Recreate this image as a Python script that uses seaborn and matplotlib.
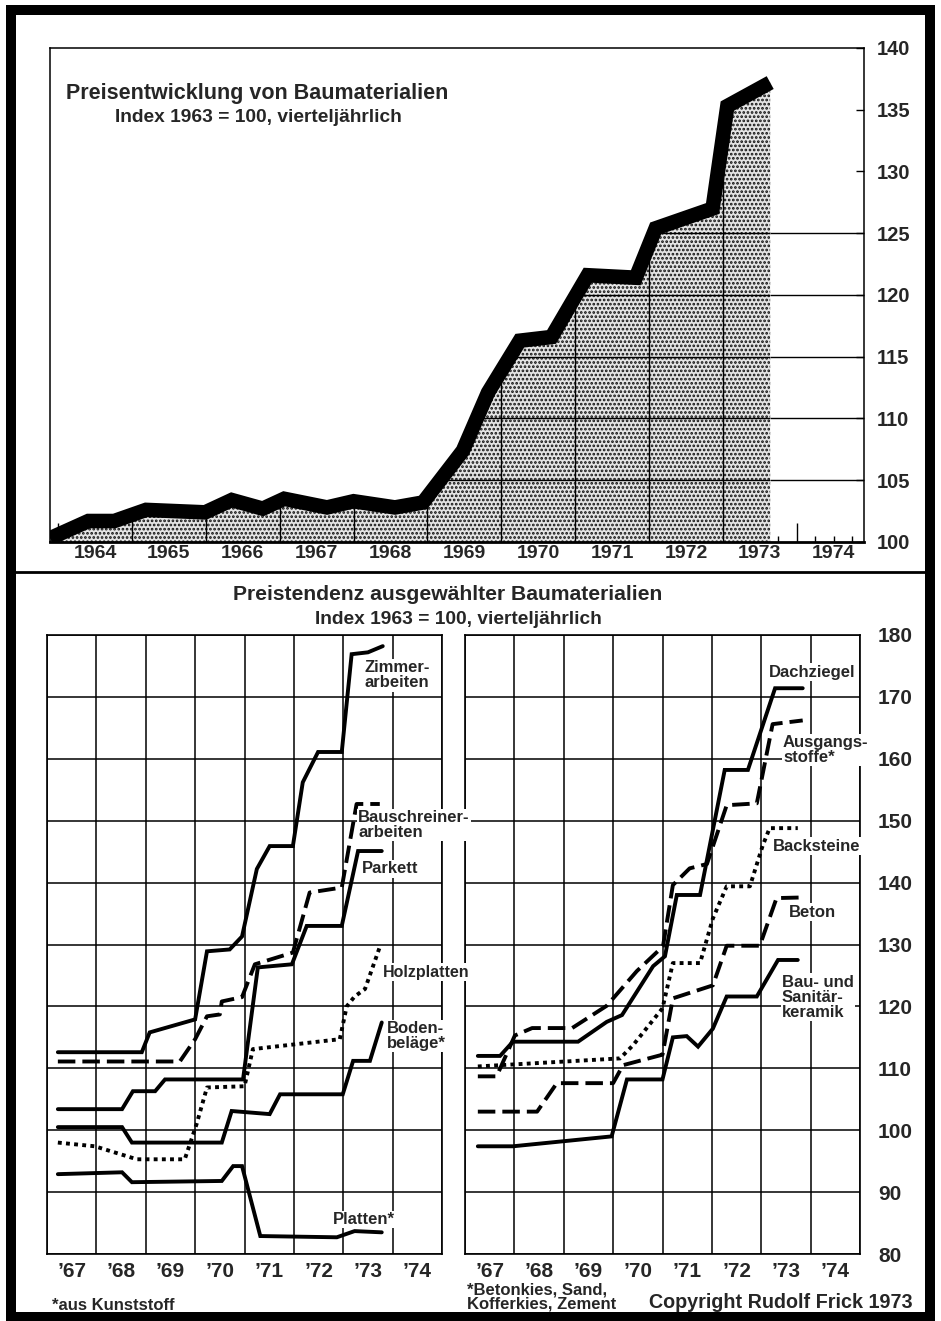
import numpy as np
import pandas as pd
import matplotlib
matplotlib.use("Agg")
import matplotlib.pyplot as plt
import seaborn as sns
from matplotlib.patches import Rectangle
from matplotlib.lines import Line2D
from matplotlib.ticker import FixedLocator, FuncFormatter, NullFormatter

# ---------------- data ----------------
# top chart: overall index, quarterly
top_year = [1963.89, 1964.41, 1964.76, 1965.19, 1965.99, 1966.35, 1966.77, 1967.06,
            1967.64, 1968.00, 1968.56, 1968.94, 1969.48, 1969.82, 1970.25, 1970.68,
            1971.17, 1971.82, 1972.09, 1972.86, 1973.06, 1973.64]
top_index = [100.3, 101.7, 101.7, 102.6, 102.4, 103.4, 102.7, 103.5,
             102.8, 103.3, 102.8, 103.2, 107.4, 112.1, 116.3, 116.6,
             121.6, 121.4, 125.4, 127.0, 135.3, 137.2]
top_years = list(range(1964, 1975))
top_y_ticks = [100, 105, 110, 115, 120, 125, 130, 135, 140]
top_grid_levels = [105, 110, 115, 120, 125]

# bottom-left chart
zimmer_x = [1967.22, 1968.92, 1969.08, 1970.00, 1970.24, 1970.70, 1970.95, 1971.25,
            1971.51, 1971.98, 1972.18, 1972.49, 1972.97, 1973.17, 1973.50, 1973.80]
zimmer_y = [112.6, 112.6, 115.8, 117.9, 128.9, 129.2, 131.3, 142.2,
            145.9, 145.9, 156.2, 161.1, 161.1, 176.9, 177.2, 178.2]
bauschr_x = [1967.22, 1969.69, 1970.00, 1970.24, 1970.50, 1970.54, 1970.95, 1971.21,
             1971.98, 1972.32, 1972.97, 1973.27, 1973.74]
bauschr_y = [111.1, 111.1, 114.7, 118.4, 118.7, 120.8, 121.5, 126.8,
             128.7, 138.4, 139.2, 152.7, 152.7]
parkett_x = [1967.22, 1968.52, 1968.74, 1969.19, 1969.39, 1970.97, 1971.27, 1971.96,
             1972.26, 1972.97, 1973.30, 1973.78]
parkett_y = [103.4, 103.4, 106.3, 106.3, 108.2, 108.2, 126.3, 126.8,
             133.0, 133.0, 145.1, 145.1]
holz_x = [1967.22, 1967.97, 1968.82, 1969.79, 1970.03, 1970.24, 1971.00, 1971.17,
          1972.93, 1973.07, 1973.23, 1973.44, 1973.74]
holz_y = [98.0, 97.4, 95.3, 95.3, 101.0, 106.9, 107.1, 113.1,
          114.7, 120.0, 121.6, 122.8, 129.6]
boden_x = [1967.22, 1968.52, 1968.72, 1970.54, 1970.74, 1971.51, 1971.72, 1972.99,
           1973.20, 1973.54, 1973.78]
boden_y = [100.5, 100.5, 98.0, 98.0, 103.1, 102.6, 105.8, 105.8,
           111.2, 111.2, 117.4]
platten_x = [1967.22, 1968.52, 1968.72, 1970.54, 1970.77, 1970.95, 1971.32, 1972.87,
             1973.23, 1973.78]
platten_y = [92.9, 93.2, 91.6, 91.8, 94.2, 94.2, 82.9, 82.7, 83.7, 83.5]

# bottom-right chart
dach_x = [1967.26, 1967.71, 1967.97, 1969.29, 1969.87, 1970.18, 1970.81, 1971.05,
          1971.29, 1971.76, 1972.26, 1972.73, 1973.28, 1973.84]
dach_y = [112.0, 112.0, 114.3, 114.3, 117.5, 118.6, 126.5, 128.1,
          138.0, 138.0, 158.2, 158.2, 171.4, 171.4]
ausg_x = [1967.26, 1967.64, 1968.01, 1968.36, 1969.17, 1969.87, 1970.48, 1971.01,
          1971.21, 1971.55, 1971.90, 1972.30, 1972.91, 1973.23, 1973.84]
ausg_y = [108.7, 108.7, 115.3, 116.5, 116.5, 120.1, 125.7, 129.7,
          139.6, 142.3, 143.0, 152.5, 152.8, 165.6, 166.2]
back_x = [1967.26, 1970.14, 1970.40, 1970.68, 1971.00, 1971.21, 1971.76, 1972.02,
          1972.30, 1972.77, 1973.03, 1973.17, 1973.74]
back_y = [110.3, 111.6, 113.7, 116.5, 119.7, 127.0, 127.0, 134.2,
          139.4, 139.4, 146.0, 148.8, 148.8]
beton_x = [1967.26, 1968.46, 1968.86, 1970.00, 1970.20, 1971.00, 1971.21, 1972.02,
           1972.30, 1972.97, 1973.31, 1973.84]
beton_y = [103.0, 103.0, 107.6, 107.6, 110.5, 112.2, 121.3, 123.4,
           129.8, 129.8, 137.5, 137.6]
keram_x = [1967.26, 1967.97, 1969.97, 1970.28, 1971.00, 1971.21, 1971.49, 1971.72,
           1972.02, 1972.30, 1972.91, 1973.34, 1973.74]
keram_y = [97.4, 97.4, 99.0, 108.2, 108.2, 115.0, 115.2, 113.5,
           116.4, 121.6, 121.6, 127.5, 127.5]

bottom_years = list(range(1967, 1976))
bottom_year_labels = ["\u201967", "\u201968", "\u201969", "\u201970",
                      "\u201971", "\u201972", "\u201973", "\u201974"]
bottom_y_ticks = list(range(80, 181, 10))

# ---------------- style ----------------
sns.set_theme(style="white")
plt.rcParams["font.family"] = ["Liberation Sans", "DejaVu Sans"]
plt.rcParams["font.weight"] = "bold"
plt.rcParams["hatch.linewidth"] = 1.3

W, H = 941, 1321
fig = plt.figure(figsize=(W / 100, H / 100), dpi=100)
fig.patch.set_facecolor("white")


def rect(l, t, r, b):
    return [l / W, 1 - b / H, (r - l) / W, (b - t) / H]


def fx(px):
    return px / W


def fy(py):
    return 1 - py / H


SOLID = "-"
DASH = (0, (4.5, 1.8))
DOT = (0, (1.0, 1.1))

# ---------------- top chart ----------------
ax = fig.add_axes(rect(50, 48, 864, 542))
ax.set_facecolor("white")
ax.set_xlim(1963.89, 1974.91)
ax.set_ylim(100, 140)

poly = ax.fill_between(top_year, 100, top_index, facecolor="#e4e4e4",
                       edgecolor="#111111", hatch="....", linewidth=0, zorder=1)
clip = poly.get_paths()[0]

hl = ax.hlines(top_grid_levels, top_year[0], top_year[-1], colors="black", lw=1.0, zorder=2)
hl.set_clip_path(clip, ax.transData)
vl = ax.vlines(top_years[1:-1], 100, 140, colors="black", lw=1.0, zorder=2)
vl.set_clip_path(clip, ax.transData)
ax.hlines(top_grid_levels, top_year[-1], 1974.91, colors="black", lw=1.0, zorder=2)

sns.lineplot(x=top_year, y=top_index, ax=ax, color="black", lw=10.5,
             sort=False, estimator=None, zorder=3)
ax.lines[-1].set_solid_joinstyle("miter")
ax.lines[-1].set_solid_capstyle("butt")

for s in ax.spines.values():
    s.set_visible(True)
    s.set_color("black")
    s.set_linewidth(1.1)
ax.spines["bottom"].set_linewidth(2.0)

ax.xaxis.set_major_locator(FixedLocator(top_years))
ax.xaxis.set_major_formatter(NullFormatter())
quarters = [y + q for y in top_years for q in (0.25, 0.5, 0.75)]
ax.xaxis.set_minor_locator(FixedLocator(quarters))
ax.xaxis.set_minor_formatter(FuncFormatter(
    lambda v, p: str(int(v)) if abs(v - int(v) - 0.5) < 0.01 else ""))
ax.tick_params(axis="x", which="major", direction="in", length=14, width=1.0,
               bottom=True, color="black")
ax.tick_params(axis="x", which="minor", direction="in", length=4, width=1.0,
               bottom=True, color="black", labelsize=14, pad=2)
ax.set_yticks(top_y_ticks)
ax.yaxis.tick_right()
ax.tick_params(axis="y", which="major", direction="in", length=6, width=1.0,
               right=True, left=False, labelright=True, labelleft=False,
               labelsize=14.5, pad=9, color="black")
ax.set_xlabel("")
ax.set_ylabel("")

fig.text(fx(257), fy(93), "Preisentwicklung von Baumaterialien", ha="center",
         va="center", fontsize=15.5, fontweight="bold")
fig.text(fx(258), fy(118), "Index 1963 = 100, vierteljährlich", ha="center",
         va="center", fontsize=13.8, fontweight="bold")

# ---------------- bottom charts ----------------
fig.text(fx(448), fy(594), "Preistendenz ausgewählter Baumaterialien", ha="center",
         va="center", fontsize=15.2, fontweight="bold")
fig.text(fx(458), fy(619), "Index 1963 = 100, vierteljährlich", ha="center",
         va="center", fontsize=13.8, fontweight="bold")


def setup_bottom(a, show_y):
    a.set_facecolor("white")
    a.set_xlim(1967, 1975)
    a.set_ylim(80, 180)
    a.xaxis.set_major_locator(FixedLocator(bottom_years))
    a.xaxis.set_major_formatter(NullFormatter())
    a.xaxis.set_minor_locator(FixedLocator([y + 0.5 for y in bottom_years[:-1]]))
    a.xaxis.set_minor_formatter(FuncFormatter(
        lambda v, p: bottom_year_labels[int(v) - 1967]))
    a.set_yticks(bottom_y_ticks)
    a.grid(True, which="major", color="black", lw=1.1)
    a.tick_params(axis="x", which="both", length=0, labelsize=15, pad=6)
    a.yaxis.tick_right()
    a.tick_params(axis="y", which="major", length=0, labelsize=15, pad=13,
                  labelright=show_y, labelleft=False)
    for s in a.spines.values():
        s.set_visible(True)
        s.set_color("black")
        s.set_linewidth(1.2)
    a.set_axisbelow(True)
    a.set_xlabel("")
    a.set_ylabel("")


def draw(a, x, y, style):
    sns.lineplot(x=x, y=y, ax=a, color="black", lw=2.8, sort=False,
                 estimator=None, zorder=3)
    ln = a.lines[-1]
    ln.set_linestyle(style)
    ln.set_solid_joinstyle("miter")
    ln.set_dash_capstyle("butt")


def label(a, x, y, s, size=12):
    a.text(x, y, s, ha="left", va="center", fontsize=size, fontweight="bold",
           linespacing=1.0, zorder=5, clip_on=False,
           bbox=dict(facecolor="white", edgecolor="none", pad=1.0))


axr = fig.add_axes(rect(465, 635, 860, 1254))
axl = fig.add_axes(rect(47, 635, 442, 1254))
axr.set_zorder(1)
axl.set_zorder(2)

setup_bottom(axl, False)
draw(axl, zimmer_x, zimmer_y, SOLID)
draw(axl, bauschr_x, bauschr_y, DASH)
draw(axl, parkett_x, parkett_y, SOLID)
draw(axl, holz_x, holz_y, DOT)
draw(axl, boden_x, boden_y, SOLID)
draw(axl, platten_x, platten_y, SOLID)
label(axl, 1973.44, 173.5, "Zimmer-\narbeiten")
label(axl, 1973.30, 149.3, "Bauschreiner-\narbeiten")
label(axl, 1973.38, 142.2, "Parkett")
label(axl, 1973.80, 125.5, "Holzplatten", size=11.5)
label(axl, 1973.88, 115.2, "Boden-\nbeläge*")
label(axl, 1972.80, 85.6, "Platten*")

setup_bottom(axr, True)
draw(axr, dach_x, dach_y, SOLID)
draw(axr, ausg_x, ausg_y, DASH)
draw(axr, back_x, back_y, DOT)
draw(axr, beton_x, beton_y, DASH)
draw(axr, keram_x, keram_y, SOLID)
label(axr, 1973.16, 174.0, "Dachziegel")
label(axr, 1973.44, 161.4, "Ausgangs-\nstoffe*")
label(axr, 1973.24, 145.9, "Backsteine")
label(axr, 1973.56, 135.2, "Beton")
label(axr, 1973.42, 121.5, "Bau- und\nSanitär-\nkeramik")

# footnotes
fig.text(fx(52), fy(1305), "*aus Kunststoff", ha="left", va="center",
         fontsize=12, fontweight="bold")
fig.text(fx(467), fy(1297), "*Betonkies, Sand,\nKofferkies, Zement", ha="left",
         va="center", fontsize=12, fontweight="bold", linespacing=0.95)
fig.text(fx(913), fy(1302), "Copyright Rudolf Frick 1973", ha="right",
         va="center", fontsize=14.2, fontweight="bold")

# frame and separator
fig.add_artist(Rectangle((fx(11), fy(1317)), (930 - 11) / W, (1317 - 10) / H,
                         transform=fig.transFigure, fill=False, lw=7.2,
                         edgecolor="black"))
fig.add_artist(Line2D([fx(11), fx(930)], [fy(572), fy(572)], lw=2.0,
                      color="black", transform=fig.transFigure))

fig.savefig("out.png", dpi=100, facecolor="white")
